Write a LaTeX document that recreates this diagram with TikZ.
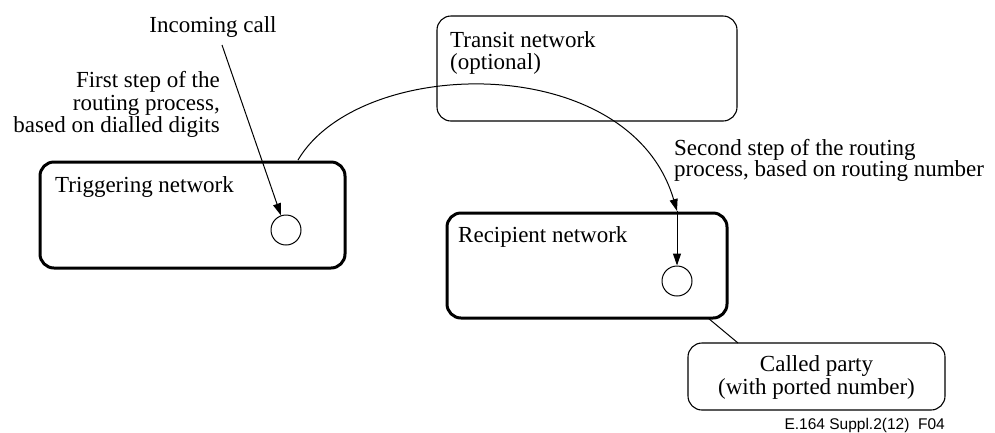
\documentclass[tikz,border=0pt]{standalone}
\usepackage{fontspec}
\setmainfont{Liberation Serif}
\newfontfamily\footfont{Liberation Sans}
\usetikzlibrary{arrows.meta}
\begin{document}
\begin{tikzpicture}[x=1pt,y=-1pt,
  lbl/.style={inner sep=0pt, font=\fontsize{23}{22.5}\selectfont},
  netbox/.style={draw, rounded corners=14pt, line width=3pt, inner sep=0pt},
  thinbox/.style={draw, rounded corners=14pt, line width=1.1pt, inner sep=0pt},
  port/.style={draw, circle, line width=1pt, minimum size=30pt, inner sep=0pt},
  arr/.style={line width=1pt, -{Triangle[length=12pt,width=8pt]}}]
\useasboundingbox (0,0) rectangle (995,432);
% boxes
\node[netbox, minimum width=305pt, minimum height=106pt] (trig) at (192.5,215) {};
\node[thinbox, minimum width=300pt, minimum height=105pt] (transit) at (587,68.5) {};
\node[netbox, minimum width=280pt, minimum height=105pt] (recip) at (587,265.5) {};
\node[thinbox, minimum width=257pt, minimum height=67pt] (called) at (816.5,376.5) {};
\node[port] (ptrig) at (286,230) {};
\node[port] (precip) at (677,281) {};
% labels
\node[lbl, anchor=base] (incoming) at (213,32) {Incoming call};
\node[lbl, anchor=base east] (firstA) at (220,87) {First step of the};
\node[lbl, anchor=base east] (firstB) at (220,110) {routing process,};
\node[lbl, anchor=base east] (firstC) at (220,132) {based on dialled digits};
\node[lbl, anchor=base west] (trigtxt) at (55,192) {Triggering network};
\node[lbl, anchor=base west] (transA) at (450,47) {Transit network};
\node[lbl, anchor=base west] (transB) at (450,69) {(optional)};
\node[lbl, anchor=base west] (secA) at (674,155) {Second step of the routing};
\node[lbl, anchor=base west] (secB) at (674,176) {process, based on routing number};
\node[lbl, anchor=base west] (reciptxt) at (458,242) {Recipient network};
\node[lbl, anchor=base] (calledA) at (816.5,371) {Called party};
\node[lbl, anchor=base] (calledB) at (816.5,394) {(with ported number)};
\node[inner sep=0pt, anchor=base east, font=\footfont\fontsize{15.5}{16}\selectfont] (fig) at (945,429) {E.164 Suppl.2(12)\ \ F04};
% connectors
\coordinate (inA) at (222,45);
\draw[arr] (inA) -- (ptrig);
\coordinate (cstart) at (298,160);
\coordinate (cend) at (677,211);
\draw[arr] (cstart) .. controls (360,55) and (630,50) .. (cend);
\draw[arr] (cend) -- (precip);
\coordinate (linkA) at (708,318);
\coordinate (linkB) at (738,343);
\draw[line width=1pt] (linkA) -- (linkB);
\end{tikzpicture}
\end{document}
